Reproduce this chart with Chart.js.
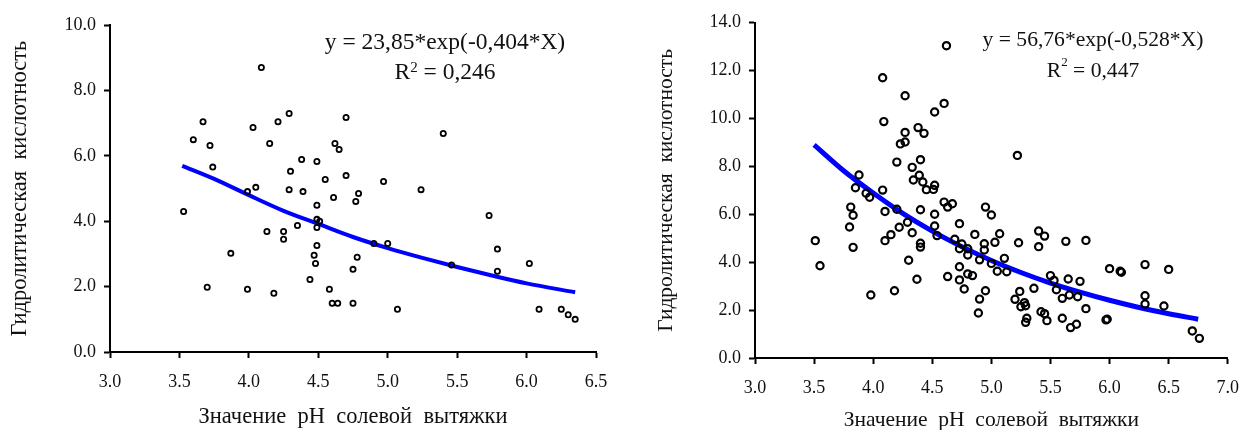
<!DOCTYPE html>
<html>
<head>
<meta charset="utf-8">
<script src="https://cdn.jsdelivr.net/npm/chart.js@4.4.0/dist/chart.umd.min.js"></script>
<style>
html, body { margin: 0; padding: 0; background: #fff; }
#wrap { position: relative; width: 1252px; height: 430px; }
.box { position: absolute; top: 0; height: 430px; }
</style>
</head>
<body>
<div id="wrap">
  <div class="box" style="left:0;width:640px"><canvas id="chartLeft"></canvas></div>
  <div class="box" style="left:640px;width:612px"><canvas id="chartRight"></canvas></div>
</div>
<script>
// left panel: pH vs hydrolytic acidity
var leftPH = [4.09,3.67,3.60,3.72,3.74,4.03,4.21,4.29,4.15,4.70,4.62,4.65,4.38,4.49,4.30,4.70,4.55,4.97,3.99,4.05,
  4.29,4.39,4.79,4.77,4.61,4.49,3.53,4.49,4.51,4.49,4.35,4.13,4.25,4.25,4.90,4.49,3.87,4.47,4.48,4.78,
  4.75,4.44,3.70,3.99,4.18,4.58,4.60,4.64,4.75,5.40,5.24,5.73,5.00,5.79,5.46,5.79,6.02,5.07,6.09,6.25,
  6.30,6.35];
var leftHA = [8.71,7.05,6.50,6.32,5.66,6.87,7.05,7.30,6.38,7.18,6.38,6.20,5.89,5.83,5.53,5.40,5.28,5.22,4.91,5.04,
  4.97,4.91,4.85,4.61,4.73,4.49,4.30,4.06,4.00,3.81,3.87,3.69,3.69,3.45,3.32,3.26,3.02,2.96,2.71,2.90,
  2.53,2.22,1.98,1.92,1.80,1.92,1.49,1.49,1.49,6.69,4.97,4.18,3.32,3.15,2.66,2.47,2.71,1.31,1.31,1.31,
  1.14,1.00];
// fitted curve
var leftFitX = [3.52,3.75,4.0,4.25,4.5,4.75,5.0,5.25,5.5,5.75,6.0,6.35];
var leftFitY = [5.70,5.30,4.80,4.32,3.92,3.52,3.18,2.88,2.60,2.34,2.10,1.83];
var leftXTicks = [3.0,3.5,4.0,4.5,5.0,5.5,6.0,6.5];
var leftYTicks = [0,2,4,6,8,10];
var leftEq = 'y = 23,85*exp(-0,404*X)';
var leftR2 = '0,246';

// right panel
var rightPH = [4.62,4.08,4.27,4.60,4.52,4.09,4.38,4.43,4.27,4.23,4.27,4.20,4.40,4.33,4.39,4.34,4.42,4.45,4.52,4.51,
  3.88,3.85,3.94,3.97,4.08,3.81,3.83,3.80,3.51,3.83,3.55,4.10,4.20,4.10,4.15,4.22,4.29,4.33,4.40,4.40,
  4.40,4.30,4.37,3.98,4.18,4.60,4.63,4.67,4.52,4.52,4.54,4.73,4.95,5.00,4.86,5.07,4.69,4.75,4.73,4.80,
  4.94,4.94,5.03,4.80,4.90,5.00,5.05,4.73,4.63,4.73,4.80,4.84,4.77,4.95,4.90,4.89,5.11,
  5.22,5.40,5.45,5.40,5.23,5.63,5.80,5.13,5.50,5.53,5.65,5.75,5.36,5.55,5.66,5.73,5.60,5.24,5.20,5.28,
  5.25,5.29,5.80,5.30,5.29,5.42,5.45,5.47,5.60,5.67,5.72,5.97,5.98,6.00,6.09,6.10,6.30,6.50,6.30,6.30,
  6.46,6.70,6.76];
var rightHA = [13.04,11.70,10.95,10.63,10.27,9.87,9.62,9.38,9.42,8.94,9.02,8.18,8.28,7.96,7.63,7.43,7.35,7.03,7.21,7.04,
  7.64,7.11,6.88,6.71,7.01,6.30,5.96,5.47,4.90,4.62,3.85,6.12,6.21,4.90,5.15,5.46,5.67,5.23,6.19,4.79,
  4.63,4.08,3.29,2.63,2.81,6.51,6.30,6.44,6.00,5.51,5.11,5.61,6.30,5.97,5.16,5.19,4.96,4.76,4.56,4.56,
  4.77,4.51,4.83,4.30,4.10,3.95,3.62,3.81,3.40,3.26,3.51,3.44,2.88,2.81,2.46,1.88,4.16,
  8.46,5.30,5.09,4.65,4.81,4.87,4.91,3.60,3.44,3.24,3.30,3.20,2.91,2.85,2.63,2.56,2.49,2.78,2.45,2.31,
  2.14,2.18,2.06,1.66,1.49,1.93,1.85,1.56,1.66,1.27,1.41,1.59,1.62,3.73,3.62,3.58,3.90,3.70,2.60,2.25,
  2.17,1.13,0.82];
var rightFitX = [3.5,3.75,4.0,4.25,4.5,4.75,5.0,5.25,5.5,5.75,6.0,6.25,6.5,6.75];
var rightFitY = [8.90,7.82,6.89,6.04,5.30,4.65,4.07,3.57,3.13,2.75,2.41,2.11,1.85,1.62];
var rightXTicks = [3.0,3.5,4.0,4.5,5.0,5.5,6.0,6.5,7.0];
var rightYTicks = [0,2,4,6,8,10,12,14];
var rightEq = 'y = 56,76*exp(-0,528*X)';
var rightR2 = '0,447';

var xTitle = 'Значение  pH  солевой  вытяжки';
var yTitle = 'Гидролитическая  кислотность';

var serif = "'Liberation Serif', 'Times New Roman', serif";
var ink = '#111';

function toPoints(xs, ys) {
  return xs.map(function (x, i) { return {x: x, y: ys[i]}; });
}

// equation + R^2 written above the cloud
var fitLabel = {
  id: 'fitLabel',
  afterDraw: function (chart, args, o) {
    var ctx = chart.ctx;
    ctx.save();
    ctx.fillStyle = ink;
    ctx.textBaseline = 'middle';
    ctx.textAlign = 'left';
    ctx.font = o.size + 'px ' + serif;
    var w = ctx.measureText(o.eq).width;
    ctx.fillText(o.eq, o.x - w / 2, o.y1);
    var rest = ' = ' + o.r2;
    var wR = ctx.measureText('R').width;
    var wRest = ctx.measureText(rest).width;
    ctx.font = Math.round(o.size * 0.62) + 'px ' + serif;
    var w2 = ctx.measureText('2').width;
    var x0 = o.x - (wR + w2 + wRest) / 2;
    ctx.fillText('2', x0 + wR, o.y2 - o.raise);
    ctx.font = o.size + 'px ' + serif;
    ctx.fillText('R', x0, o.y2);
    ctx.fillText(rest, x0 + wR + w2, o.y2);
    ctx.restore();
  }
};

function makeChart(id, p) {
  return new Chart(document.getElementById(id), {
    type: 'scatter',
    data: {
      datasets: [{
        data: toPoints(p.xs, p.ys),
        pointStyle: 'circle',
        pointRadius: p.r,
        pointBorderWidth: p.bw,
        pointBorderColor: '#000',
        pointBackgroundColor: 'rgba(255,255,255,0)',
        showLine: false,
        clip: false
      }, {
        data: toPoints(p.fx, p.fy),
        showLine: true,
        pointRadius: 0,
        borderColor: '#0000ff',
        borderWidth: p.lw,
        cubicInterpolationMode: 'monotone',
        fill: false
      }]
    },
    options: {
      responsive: true,
      maintainAspectRatio: false,
      animation: false,
      layout: {padding: p.pad},
      plugins: {
        legend: {display: false},
        tooltip: {enabled: false},
        fitLabel: p.label
      },
      scales: {
        x: {
          type: 'linear',
          min: p.xt[0], max: p.xt[p.xt.length - 1],
          afterBuildTicks: function (s) { s.ticks = p.xt.map(function (v) { return {value: v}; }); },
          afterFit: function (s) { s.height = p.xh; },
          ticks: {
            color: ink, padding: 13, maxRotation: 0, autoSkip: false,
            font: {family: serif, size: 18},
            callback: function (v) { return v.toFixed(1); }
          },
          grid: {drawOnChartArea: false, drawTicks: true, tickLength: 6, tickWidth: 2, tickColor: '#000'},
          border: {display: true, color: '#000', width: 2},
          title: {display: true, text: xTitle, color: ink, font: {family: serif, size: p.ts, lineHeight: 0.9}, padding: {top: 0, bottom: p.xtp}}
        },
        y: {
          type: 'linear',
          min: p.yt[0], max: p.yt[p.yt.length - 1],
          afterBuildTicks: function (s) { s.ticks = p.yt.map(function (v) { return {value: v}; }); },
          afterFit: function (s) { s.width = p.yw; },
          ticks: {
            color: ink, padding: 8, autoSkip: false,
            font: {family: serif, size: 18},
            callback: function (v) { return v.toFixed(1); }
          },
          grid: {drawOnChartArea: false, drawTicks: true, tickLength: 6, tickWidth: 2, tickColor: '#000'},
          border: {display: true, color: '#000', width: 2},
          title: {display: true, text: yTitle, color: ink, font: {family: serif, size: p.ts, lineHeight: 0.9}, padding: {top: 0, bottom: 0}}
        }
      }
    },
    plugins: [fitLabel]
  });
}

makeChart('chartLeft', {
  xs: leftPH, ys: leftHA, fx: leftFitX, fy: leftFitY,
  xt: leftXTicks, yt: leftYTicks,
  r: 2.6, bw: 1.8, lw: 4, ts: 22.5,
  pad: {left: 10, top: 25.3, right: 44, bottom: 0},
  yw: 100, xh: 78, xtp: 3.2,
  label: {eq: leftEq, r2: leftR2, x: 445, y1: 43, y2: 73, size: 23.5, raise: 5}
});

makeChart('chartRight', {
  xs: rightPH, ys: rightHA, fx: rightFitX, fy: rightFitY,
  xt: rightXTicks, yt: rightYTicks,
  r: 3.6, bw: 2.2, lw: 5, ts: 21.5,
  pad: {left: 17, top: 22.7, right: 14, bottom: 0},
  yw: 98, xh: 72, xtp: 0.4,
  label: {eq: rightEq, r2: rightR2, x: 453, y1: 40, y2: 71, size: 21.6, raise: 8}
});
</script>
</body>
</html>
